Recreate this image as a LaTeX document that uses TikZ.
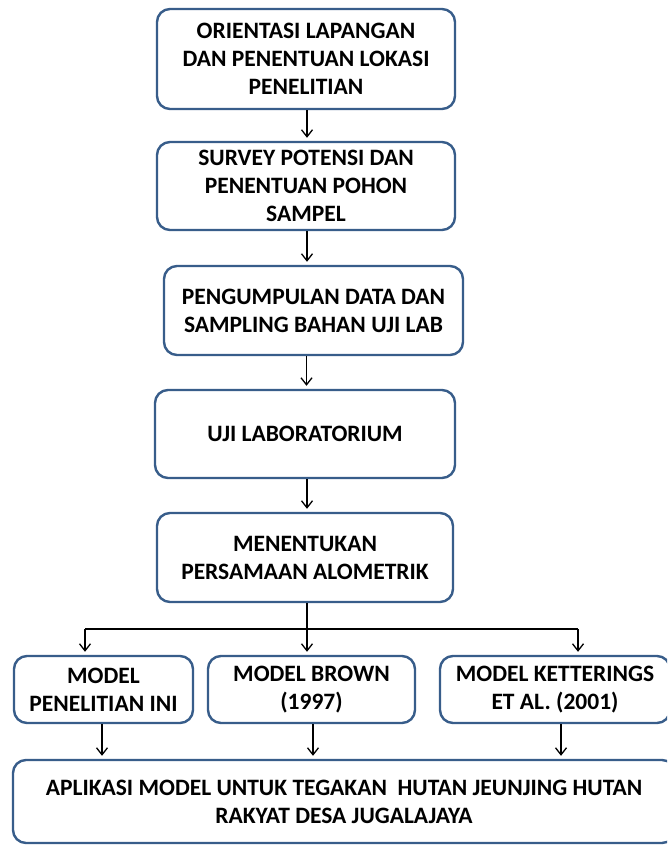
\documentclass[tikz,border=0pt]{standalone}
\usepackage{fontspec}
\setmainfont{Carlito}
\usetikzlibrary{arrows.meta,calc}
\definecolor{boxline}{HTML}{385D8A}
\tikzset{
  flowbox/.style={draw=boxline, line width=2.4pt, rounded corners=13pt, fill=white,
    align=center, inner sep=0pt, font=\fontsize{23.5}{28}\selectfont\bfseries},
  arr/.style={draw=black, line width=1.3pt, -{Straight Barb[length=7pt,width=11pt,line width=1.3pt]}, shorten >=3pt},
  ln/.style={draw=black, line width=1.3pt}
}
\begin{document}
\begin{tikzpicture}[x=1pt,y=-1pt]
\useasboundingbox (0,0) rectangle (667,845);
\clip (0,0) rectangle (667,845);
\fill[white] (0,0) rectangle (667,845);

\node[flowbox, minimum width=298pt, minimum height=100pt] (b1) at (306,59)
  {ORIENTASI LAPANGAN\\DAN PENENTUAN LOKASI\\PENELITIAN};
\node[flowbox, minimum width=298pt, minimum height=88pt] (b2) at (306,186)
  {SURVEY POTENSI DAN\\PENENTUAN POHON\\SAMPEL};
\node[flowbox, minimum width=299pt, minimum height=89pt] (b3) at (313.5,310.5)
  {PENGUMPULAN DATA DAN\\SAMPLING BAHAN UJI LAB};
\node[flowbox, minimum width=300pt, minimum height=88pt] (b4) at (305,434)
  {UJI LABORATORIUM};
\node[flowbox, minimum width=296pt, minimum height=89pt] (b5) at (305,557.5)
  {MENENTUKAN\\PERSAMAAN ALOMETRIK};

\node[flowbox, minimum width=179pt, minimum height=67pt] (s1) at (103.5,689.5)
  {MODEL\\PENELITIAN INI};
\node[flowbox, minimum width=207pt, minimum height=67pt] (s2) at (311.5,689.5)
  {MODEL BROWN\\(1997)};
\node[flowbox, minimum width=230pt, minimum height=67pt] (s3) at (555,689.5)
  {MODEL KETTERINGS\\ET AL. (2001)};

\node[flowbox, minimum width=662pt, minimum height=83pt] (bot) at (344,801.5)
  {APLIKASI MODEL UNTUK TEGAKAN\ \ HUTAN JEUNJING HUTAN\\RAKYAT DESA JUGALAJAYA};

% main chain
\coordinate (t1) at ($(b1.south)+(1,0)$);
\draw[arr] (t1) -- (t1 |- b2.north);
\coordinate (t2) at ($(b2.south)+(1,0)$);
\draw[arr] (t2) -- (t2 |- b3.north);
\coordinate (t3) at ($(b3.south)+(-7,0)$);
\draw[arr] (t3) -- (t3 |- b4.north);
\coordinate (t4) at ($(b4.south)+(2,0)$);
\draw[arr] (t4) -- (t4 |- b5.north);

% branching
\coordinate (t5) at ($(b5.south)+(2,0)$);
\coordinate (j) at (307,629);
\coordinate (jl) at (85,629);
\coordinate (jr) at (578,629);
\draw[ln] (t5) -- (j);
\draw[ln] (jl) -- (jr);
\draw[arr] (jl) -- (jl |- s1.north);
\draw[arr] (j) -- (j |- s2.north);
\draw[arr] (jr) -- (jr |- s3.north);

% to bottom box
\coordinate (u1) at ($(s1.south)+(-1.5,0)$);
\draw[arr] (u1) -- (u1 |- bot.north);
\coordinate (u2) at ($(s2.south)+(1.5,0)$);
\draw[arr] (u2) -- (u2 |- bot.north);
\coordinate (u3) at ($(s3.south)+(6,0)$);
\draw[arr] (u3) -- (u3 |- bot.north);
\end{tikzpicture}
\end{document}
